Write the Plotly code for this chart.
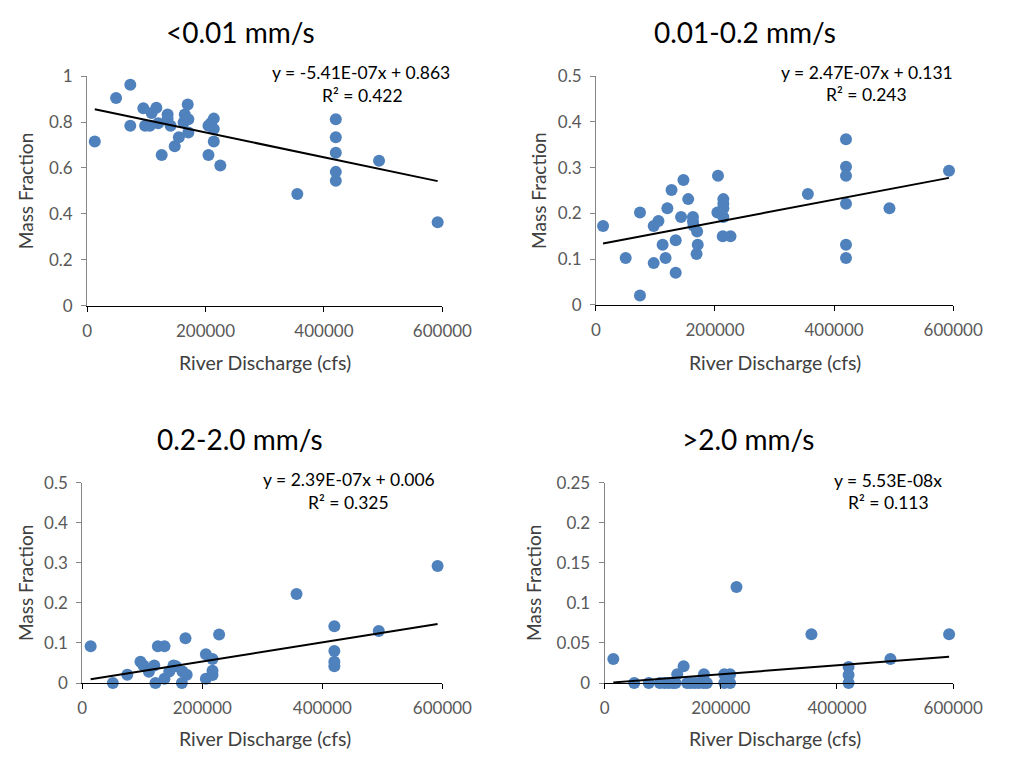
import plotly.graph_objects as go

# ---------------- data ----------------
titles = ["<0.01 mm/s", "0.01-0.2 mm/s", "0.2-2.0 mm/s", ">2.0 mm/s"]

q_p1 = [13000, 49000, 73000, 73000, 95000, 98000, 106000, 109000, 117000, 120000,
        126000, 136000, 136000, 141000, 148000, 155000, 163000, 165000, 170000, 171000,
        171000, 205000, 205000, 209000, 214000, 214000, 214000, 225000, 355000, 420000,
        420000, 420000, 420000, 420000, 493000, 592000]
f_p1 = [0.715, 0.905, 0.963, 0.784, 0.860, 0.784, 0.784, 0.840, 0.862, 0.795,
        0.657, 0.833, 0.815, 0.784, 0.695, 0.734, 0.798, 0.833, 0.877, 0.812,
        0.755, 0.784, 0.657, 0.795, 0.815, 0.770, 0.715, 0.611, 0.487, 0.812,
        0.734, 0.666, 0.583, 0.544, 0.631, 0.364]

q_p2 = [12000, 50000, 74000, 74000, 97000, 97000, 105000, 112000, 117000, 120000,
        127000, 134000, 134000, 143000, 147000, 155000, 163000, 163000, 164000, 170000,
        171000, 169000, 205000, 204000, 214000, 214000, 214000, 214000, 213000, 226000,
        356000, 420000, 420000, 420000, 420000, 420000, 420000, 493000, 593000]
f_p2 = [0.172, 0.102, 0.202, 0.020, 0.172, 0.091, 0.183, 0.131, 0.102, 0.211,
        0.251, 0.141, 0.070, 0.192, 0.273, 0.231, 0.192, 0.182, 0.173, 0.160,
        0.131, 0.111, 0.282, 0.202, 0.231, 0.221, 0.211, 0.192, 0.150, 0.150,
        0.242, 0.362, 0.302, 0.282, 0.221, 0.131, 0.102, 0.211, 0.293]

q_p3 = [14000, 51000, 75000, 97000, 102000, 111000, 120000, 122000, 126000, 137000,
        137000, 145000, 152000, 156000, 166000, 167000, 172000, 174000, 206000, 206000,
        217000, 217000, 217000, 228000, 357000, 420000, 420000, 420000, 420000, 494000,
        592000]
f_p3 = [0.092, 0.0, 0.021, 0.053, 0.044, 0.028, 0.044, 0.0, 0.092, 0.092,
        0.011, 0.029, 0.044, 0.042, 0.0, 0.029, 0.112, 0.021, 0.072, 0.011,
        0.060, 0.031, 0.020, 0.121, 0.222, 0.142, 0.080, 0.053, 0.042, 0.130,
        0.292]

q_p4 = [15000, 51000, 76000, 95000, 103000, 110000, 117000, 122000, 125000, 136000,
        142000, 148000, 155000, 162000, 170000, 176000, 171000, 206000, 206000, 216000,
        216000, 227000, 356000, 420000, 420000, 420000, 492000, 593000]
f_p4 = [0.030, 0.0, 0.0, 0.0, 0.0, 0.0, 0.0, 0.0, 0.011, 0.021,
        0.0, 0.0, 0.0, 0.0, 0.0, 0.0, 0.011, 0.0, 0.011, 0.011,
        0.0, 0.120, 0.061, 0.020, 0.010, 0.0, 0.030, 0.061]

slopes = [-5.41e-07, 2.47e-07, 2.39e-07, 5.53e-08]
intercepts = [0.863, 0.131, 0.006, 0.0]
eq_labels = ["y = -5.41E-07x + 0.863", "y = 2.47E-07x + 0.131",
             "y = 2.39E-07x + 0.006", "y = 5.53E-08x"]
r2_labels = ["R² = 0.422", "R² = 0.243", "R² = 0.325", "R² = 0.113"]

x_ticks = [0, 200000, 400000, 600000]
x_tick_text = ["0", "200000", "400000", "600000"]
y_max = [1.0, 0.5, 0.5, 0.25]
y_step = [0.2, 0.1, 0.1, 0.05]

x_title = "River Discharge (cfs)"
y_title = "Mass Fraction"

# ---------------- layout ----------------
W, H = 1016, 766
FONT = "Lato, 'Open Sans', sans-serif"
BLUE = "#4F81BD"

# plot-area pixel boxes (left, right, top, bottom)
boxes = [(85, 453, 67, 303), (612, 982, 67, 302),
         (80, 453, 485, 691), (621, 982, 485, 691)]
title_pos = [(244, 22), (766, 22), (243, 440), (770, 440)]
eq_pos = [(369, 63), (893, 63), (356, 482), (915, 483)]
r2_pos = [(370, 87), (892, 86), (356, 505), (915, 505)]
ytitle_pos = [(22, 185), (553, 185), (22, 588), (548, 588)]
xtitle_pos = [(269, 361), (797, 361), (269, 748), (797, 748)]

data = [(q_p1, f_p1), (q_p2, f_p2), (q_p3, f_p3), (q_p4, f_p4)]

fig = go.Figure()
annotations = []
layout = {}

def px(x):
    return x / W

def py(y):
    return 1 - y / H

for i, (q, f) in enumerate(data):
    n = "" if i == 0 else str(i + 1)
    xa, ya = "x" + n, "y" + n
    fig.add_trace(go.Scatter(
        x=q, y=f, mode="markers", xaxis=xa, yaxis=ya,
        marker=dict(color=BLUE, size=12, line=dict(width=0)),
        cliponaxis=False, showlegend=False, hoverinfo="x+y"))
    x0, x1 = min(q), max(q)
    fig.add_trace(go.Scatter(
        x=[x0, x1], y=[slopes[i] * x0 + intercepts[i], slopes[i] * x1 + intercepts[i]],
        mode="lines", xaxis=xa, yaxis=ya, line=dict(color="black", width=2),
        cliponaxis=False, showlegend=False, hoverinfo="skip"))

    l, r, t, b = boxes[i]
    layout["xaxis" + n] = dict(
        domain=[px(l), px(r)], range=[0, 600000], anchor=ya,
        tickvals=x_ticks, ticktext=x_tick_text,
        showgrid=False, zeroline=False, showline=True, linecolor="#000000", linewidth=1,
        ticks="outside", ticklen=5, tickcolor="#000000",
        tickfont=dict(family=FONT, size=17, color="#595959"), ticklabelstandoff=5)
    ya_vals = [round(k * y_step[i], 4) for k in range(int(round(y_max[i] / y_step[i])) + 1)]
    layout["yaxis" + n] = dict(
        domain=[py(b), py(t)], range=[0, y_max[i]], anchor=xa,
        tickvals=ya_vals, ticktext=[("%g" % v) for v in ya_vals],
        showgrid=False, zeroline=False, showline=True, linecolor="#868686", linewidth=1,
        ticks="outside", ticklen=5, tickcolor="#868686",
        tickfont=dict(family=FONT, size=17, color="#595959"), ticklabelstandoff=5)

    tx, ty = title_pos[i]
    annotations.append(dict(text=titles[i], x=px(tx), y=py(ty), xref="paper", yref="paper",
                            showarrow=False, xanchor="center", yanchor="middle",
                            font=dict(family=FONT, size=28, color="#000000")))
    ex, ey = eq_pos[i]
    annotations.append(dict(text=eq_labels[i], x=px(ex), y=py(ey), xref="paper", yref="paper",
                            showarrow=False, xanchor="center", yanchor="middle",
                            font=dict(family=FONT, size=17.5, color="#000000")))
    rx, ry = r2_pos[i]
    annotations.append(dict(text=r2_labels[i], x=px(rx), y=py(ry), xref="paper", yref="paper",
                            showarrow=False, xanchor="center", yanchor="middle",
                            font=dict(family=FONT, size=17.5, color="#000000")))
    yx, yy = ytitle_pos[i]
    annotations.append(dict(text=y_title, x=px(yx), y=py(yy), xref="paper", yref="paper",
                            showarrow=False, xanchor="center", yanchor="middle", textangle=-90,
                            font=dict(family=FONT, size=19, color="#404040")))
    xx, xy = xtitle_pos[i]
    annotations.append(dict(text=x_title, x=px(xx), y=py(xy), xref="paper", yref="paper",
                            showarrow=False, xanchor="center", yanchor="middle",
                            font=dict(family=FONT, size=19.5, color="#404040")))

fig.update_layout(
    width=W, height=H, margin=dict(l=0, r=0, t=0, b=0),
    paper_bgcolor="white", plot_bgcolor="white",
    annotations=annotations, **layout)

fig.write_html("out.html")
